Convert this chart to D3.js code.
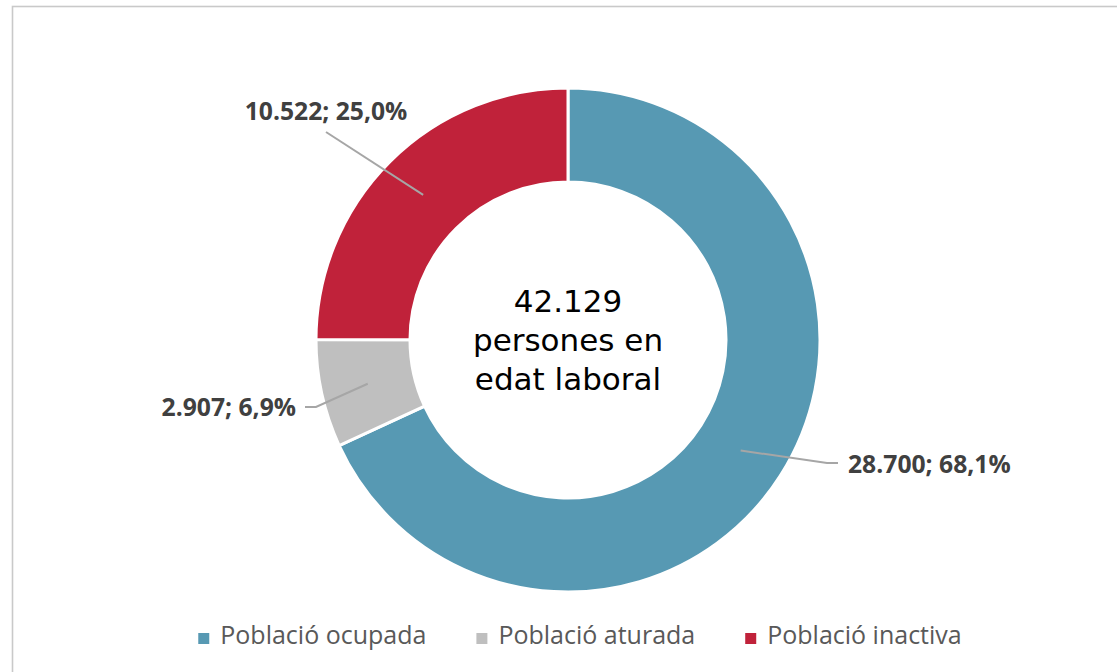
<!DOCTYPE html>
<html>
<head>
<meta charset="utf-8">
<script src="https://cdn.jsdelivr.net/npm/d3@7"></script>
<style>
  body { margin: 0; background: #fff; }
  svg { display: block; }
</style>
</head>
<body>
<div class="chart"></div>
<script>
/*DATA*/
var categories = ["Població ocupada", "Població aturada", "Població inactiva"];
var values = [28700, 2907, 10522];
var percents = ["68,1%", "6,9%", "25,0%"];
var colors = ["#5799b3", "#bfbfbf", "#c0223a"];
var centerLines = ["42.129", "persones en", "edat laboral"];

var width = 1117, height = 672;
var cx = 568, cy = 340;
var rOuter = 252, rInner = 158;

/*label layout: end of leader relative to centre, elbow length, text side*/
var labelLayout = [
  {ex: 270, ey: 123, elbow: -11, side: "right"},
  {ex: -263, ey: 67, elbow: 11, side: "left"},
  {ex: -242, ey: -208, elbow: 0, side: "top"}
];

var svg = d3.select(".chart")
    .append("svg")
    .attr("width", width)
    .attr("height", height);

// chart border (right / bottom edges fall outside the picture)
svg.append("rect")
    .attr("x", 12.5)
    .attr("y", 6.5)
    .attr("width", 1140)
    .attr("height", 700)
    .attr("fill", "none")
    .attr("stroke", "#c9c9c9")
    .attr("stroke-width", 1.6);

var fmt = d3.formatLocale({decimal: ",", thousands: ".", grouping: [3], currency: ["", "€"]}).format(",d");

var pie = d3.pie().sort(null).value(function(d){ return d; });
var arcs = pie(values);

var arc = d3.arc().innerRadius(rInner).outerRadius(rOuter);
var mid = d3.arc().innerRadius((rInner + rOuter) / 2).outerRadius((rInner + rOuter) / 2);

var g = svg.append("g").attr("transform", "translate(" + cx + "," + cy + ")");

g.selectAll("path.slice")
    .data(arcs)
    .enter()
    .append("path")
    .attr("class", "slice")
    .attr("d", arc)
    .attr("fill", function(d, i){ return colors[i]; })
    .attr("stroke", "#fff")
    .attr("stroke-width", 3);

/*LEADER LINES + LABELS*/
arcs.forEach(function(d, i) {
  var c = mid.centroid(d);
  var L = labelLayout[i];
  var pts = [[c[0], c[1]]];
  if (L.elbow) pts.push([L.ex + L.elbow, L.ey]);
  pts.push([L.ex, L.ey]);
  g.append("path")
      .attr("d", d3.line()(pts))
      .attr("fill", "none")
      .attr("stroke", "#a6a6a6")
      .attr("stroke-width", 2);

  var t = g.append("text")
      .attr("font-family", "'Open Sans', sans-serif")
      .attr("font-weight", "bold")
      .attr("font-size", 24.7)
      .attr("fill", "#404040")
      .text(fmt(values[i]) + "; " + percents[i]);
  if (L.side == "right") {
    t.attr("x", L.ex + 10).attr("y", L.ey + 10).attr("text-anchor", "start");
  } else if (L.side == "left") {
    t.attr("x", L.ex - 9).attr("y", L.ey + 9).attr("text-anchor", "end");
  } else {
    t.attr("x", L.ex).attr("y", L.ey - 12).attr("text-anchor", "middle");
  }
});

/*CENTRE TEXT*/
g.selectAll("text.center")
    .data(centerLines)
    .enter()
    .append("text")
    .attr("class", "center")
    .attr("x", 0)
    .attr("y", function(d, i){ return -28 + i * 39; })
    .attr("text-anchor", "middle")
    .attr("font-family", "'DejaVu Sans', Verdana, sans-serif")
    .attr("font-size", 31)
    .attr("fill", "#000")
    .text(function(d){ return d; });

/*LEGEND*/
var legend = svg.append("g");
var lx = 0;
categories.forEach(function(name, i) {
  var item = legend.append("g").attr("transform", "translate(" + lx + ",0)");
  item.append("rect")
      .attr("x", 0).attr("y", -11)
      .attr("width", 11).attr("height", 11)
      .attr("fill", colors[i]);
  var txt = item.append("text")
      .attr("x", 22).attr("y", 0)
      .attr("font-family", "'Open Sans', sans-serif")
      .attr("font-size", 25)
      .attr("fill", "#595959")
      .text(name);
  lx += 22 + txt.node().getComputedTextLength() + 50;
});
var legendW = lx - 50;
legend.attr("transform", "translate(" + (580 - legendW / 2) + ",644)");
</script>
</body>
</html>
